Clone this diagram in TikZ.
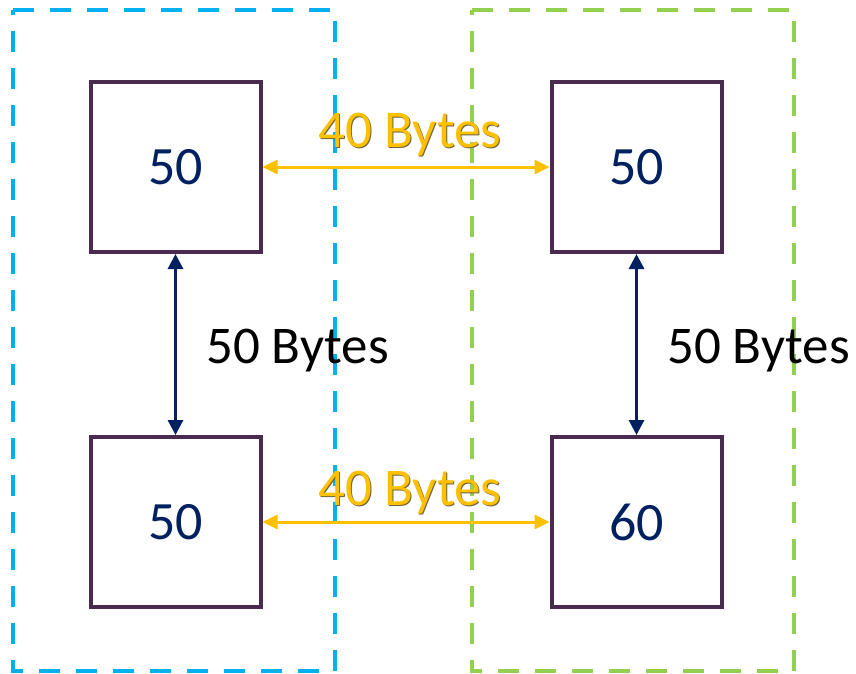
\documentclass[tikz,border=0pt]{standalone}
\usepackage{fontspec}
\setmainfont{Carlito}
\usetikzlibrary{arrows.meta}
\definecolor{grpblue}{HTML}{00B0F0}
\definecolor{grpgreen}{HTML}{92D050}
\definecolor{boxedge}{HTML}{4A2A4E}
\definecolor{navy}{HTML}{002060}
\definecolor{amber}{HTML}{FFC000}
\definecolor{shade}{HTML}{6E6440}
\tikzset{
  group/.style={line width=4pt, dash pattern=on 21pt off 16pt},
  cell/.style={draw=boxedge, line width=4pt, minimum size=170pt, inner sep=0pt,
    text=navy, font=\fontsize{54}{62}\selectfont},
  link/.style={amber, line width=3pt, {Triangle[length=15pt,width=14pt]}-{Triangle[length=15pt,width=14pt]}},
  vlink/.style={navy, line width=3pt, {Triangle[length=15pt,width=15pt]}-{Triangle[length=15pt,width=15pt]}},
  lbl/.style={font=\fontsize{53}{61}\selectfont, inner sep=0pt},
}
\begin{document}
\begin{tikzpicture}[x=1pt,y=-1pt]
\useasboundingbox (0,0) rectangle (856,673);
% the two dashed groups
\draw[group, grpblue] (13,10) -- (335,10) -- (335,671) -- (13,671) -- cycle;
\draw[group, grpgreen] (472,10) -- (794,10) -- (794,671) -- (472,671) -- cycle;
% the four cells
\node[cell] (lt) at (175.5,167) {50};
\node[cell] (lb) at (175.5,522) {50};
\node[cell] (rt) at (636.5,167) {50};
\node[cell] (rb) at (636.5,522) {60};
% links between the groups
\draw[link] (lt.east) -- (rt.west);
\draw[link] (lb.east) -- (rb.west);
% links inside each group
\draw[vlink] (lt.south) -- (lb.north);
\draw[vlink] (rt.south) -- (rb.north);
% labels
\node[lbl, text=shade, anchor=base] at (411,148) {40 Bytes};
\node[lbl, text=amber, anchor=base] (tl) at (410,147) {40 Bytes};
\node[lbl, text=shade, anchor=base] at (411,506) {40 Bytes};
\node[lbl, text=amber, anchor=base] (bl) at (410,505) {40 Bytes};
\node[lbl, anchor=base west] (ll) at (206,363) {50 Bytes};
\node[lbl, anchor=base west] (rl) at (667,363) {50 Bytes};
\end{tikzpicture}
\end{document}
